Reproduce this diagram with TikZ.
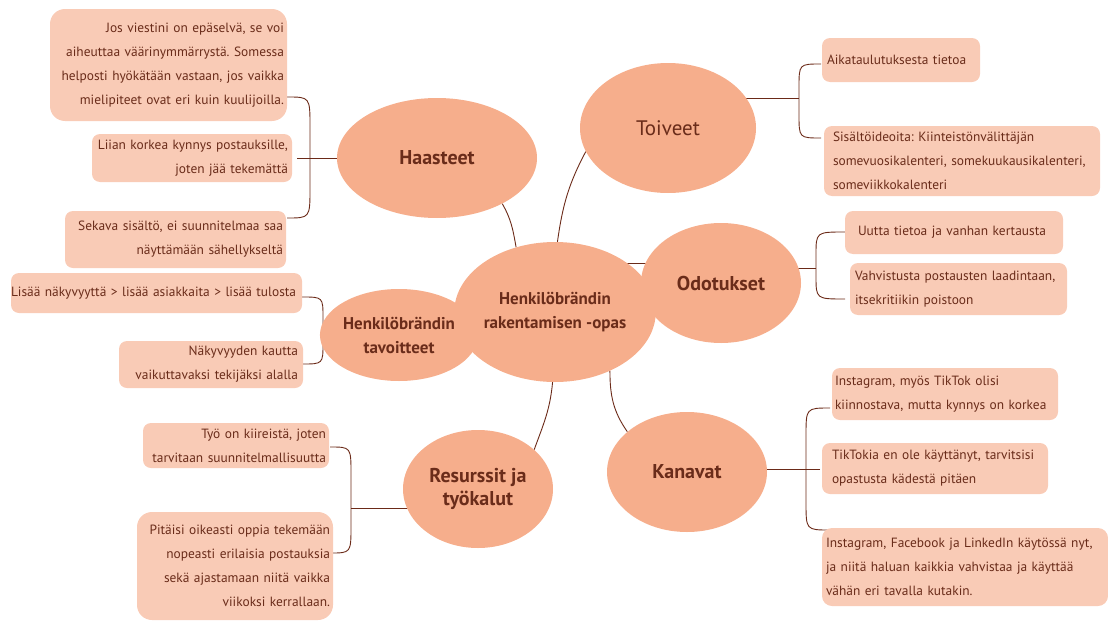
\documentclass[tikz,border=0pt]{standalone}
\usepackage{fontspec}
\setmainfont{PT Sans}
\usetikzlibrary{shapes.geometric,backgrounds}
\definecolor{ellfill}{HTML}{F6AE8C}
\definecolor{boxfill}{HTML}{F9CBB6}
\definecolor{txt}{HTML}{6A2C1A}
\definecolor{ln}{HTML}{6B2A18}
\frenchspacing
\newcommand\Rl[1]{\makebox[\linewidth][r]{#1}}
\newcommand\Ll[1]{\makebox[\linewidth][l]{#1}}
\begin{document}
\begin{tikzpicture}[x=1pt,y=-1pt,
  topic/.style={ellipse, fill=ellfill, inner sep=0pt, text=txt, align=center},
  bigtitle/.style={font=\bfseries\fontsize{20}{23}\selectfont},
  midtitle/.style={font=\bfseries\fontsize{17}{24}\selectfont},
  sub/.style={rectangle, rounded corners=8pt, fill=boxfill, text=txt, inner ysep=0pt, align=left, font=\fontsize{13.4}{24}\selectfont},
  link/.style={draw=ln, line width=0.9pt},
]
\useasboundingbox (0,0) rectangle (1108,621);

% topics
\node[topic, midtitle, minimum width=166pt, minimum height=140pt] (C) at (555,312) {Henkilöbrändin\\rakentamisen -opas};
\node[topic, bigtitle, minimum width=200pt, minimum height=120pt] (haasteet) at (437,158) {Haasteet};
\node[topic, font=\fontsize{21}{24}\selectfont, minimum width=176pt, minimum height=130pt] (toiveet) at (668,128) {Toiveet};
\node[topic, bigtitle, minimum width=160pt, minimum height=120pt] (odotukset) at (721,283) {Odotukset};
\node[topic, midtitle, minimum width=132pt, minimum height=92pt] (tavoitteet) at (399,335) {Henkilöbrändin\\tavoitteet};
\node[topic, bigtitle, minimum width=150pt, minimum height=118pt] (resurssit) at (478,489) {Resurssit ja\\työkalut};
\node[topic, bigtitle, minimum width=160pt, minimum height=120pt] (kanavat) at (687,472) {Kanavat};

% Haasteet boxes
\node[sub, rounded corners=15pt, inner xsep=3pt, text width=231pt, minimum width=237pt, minimum height=112pt] (hb1) at (168.5,65)
  {\Rl{Jos viestini on epäselvä, se voi}\\\Rl{aiheuttaa väärinymmärrystä. Somessa}\\\Rl{helposti hyökätään vastaan, jos vaikka}\\\Rl{mielipiteet ovat eri kuin kuulijoilla.}};
\node[sub, inner xsep=4pt, text width=192pt, minimum width=200pt, minimum height=48pt] (hb2) at (192,158)
  {\Rl{Liian korkea kynnys postauksille,}\\\Rl{joten jää tekemättä}};
\node[sub, inner xsep=3pt, text width=215pt, minimum width=221pt, minimum height=57pt] (hb3) at (175.5,239.5)
  {\Rl{Sekava sisältö, ei suunnitelmaa saa}\\\Rl{näyttämään sähellykseltä}};

% Toiveet boxes
\node[sub, inner xsep=5pt, text width=148pt, minimum width=158pt, minimum height=44pt] (tb1) at (901,60)
  {\Ll{Aikataulutuksesta tietoa}};
\node[sub, inner xsep=9pt, text width=258pt, minimum width=276pt, minimum height=70pt] (tb2) at (962,161)
  {\Ll{Sisältöideoita: Kiinteistönvälittäjän}\\\Ll{somevuosikalenteri, somekuukausikalenteri,}\\\Ll{someviikkokalenteri}};

% Odotukset boxes
\node[sub, inner xsep=13pt, text width=192pt, minimum width=218pt, minimum height=43pt] (ob1) at (954,232.5)
  {\Ll{Uutta tietoa ja vanhan kertausta}};
\node[sub, inner xsep=5pt, text width=207pt, minimum width=217pt, minimum height=52pt] (ob2) at (958.5,289)
  {\Ll{Vahvistusta postausten laadintaan,}\\\Ll{itsekritiikin poistoon}};

% Tavoitteet boxes
\node[sub, inner xsep=0pt, text width=291pt, minimum width=291pt, minimum height=40pt] (vb1) at (156.5,293)
  {\Ll{Lisää näkyvyyttä > lisää asiakkaita > lisää tulosta}};
\node[sub, inner xsep=5pt, text width=174pt, minimum width=184pt, minimum height=47pt] (vb2) at (211,364.5)
  {\Rl{Näkyvyyden kautta}\\\Rl{vaikuttavaksi tekijäksi alalla}};

% Resurssit boxes
\node[sub, inner xsep=3pt, text width=180pt, minimum width=186pt, minimum height=45pt] (rb1) at (236,445.5)
  {\Rl{Työ on kiireistä, joten}\\\Rl{tarvitaan suunnitelmallisuutta}};
\node[sub, rounded corners=15pt, inner xsep=3pt, text width=190pt, minimum width=196pt, minimum height=108pt] (rb2) at (235,566)
  {\Rl{Pitäisi oikeasti oppia tekemään}\\\Rl{nopeasti erilaisia postauksia}\\\Rl{sekä ajastamaan niitä vaikka}\\\Rl{viikoksi kerrallaan.}};

% Kanavat boxes
\node[sub, inner xsep=3pt, text width=220pt, minimum width=226pt, minimum height=52pt] (kb1) at (945,394)
  {\Ll{Instagram, myös TikTok olisi}\\\Ll{kiinnostava, mutta kynnys on korkea}};
\node[sub, inner xsep=10pt, text width=206pt, minimum width=226pt, minimum height=51pt] (kb2) at (935,468.5)
  {\Ll{TikTokia en ole käyttänyt, tarvitsisi}\\\Ll{opastusta kädestä pitäen}};
\node[sub, rounded corners=10pt, inner xsep=4pt, text width=278pt, minimum width=286pt, minimum height=78pt] (kb3) at (965,567)
  {\Ll{Instagram, Facebook ja LinkedIn käytössä nyt,}\\\Ll{ja niitä haluan kaikkia vahvistaa ja käyttää}\\\Ll{vähän eri tavalla kutakin.}};

% junction / bracket coordinates
\coordinate (hJ) at (297,158);
\coordinate (hT) at (hb1.east |- 0,97);
\coordinate (hB) at (287,218);
\coordinate (tJ) at (799,98);
\coordinate (tT) at (821,64);
\coordinate (tB) at (821,138);
\coordinate (oJ) at (816,268);
\coordinate (oT) at (845,232);
\coordinate (oB) at (845,299);
\coordinate (vJ) at (323,329);
\coordinate (vT) at (302,297);
\coordinate (vB) at (302,364);
\coordinate (rJ) at (351,508);
\coordinate (rT) at (330,447);
\coordinate (rB) at (330,553);
\coordinate (kJ) at (820,469);
\coordinate (kT) at (830,408);
\coordinate (kB) at (830,530);

\begin{scope}[on background layer]
  % central connectors
  \draw[link] (haasteet.-35) to[out=-60,in=100] (C.121);
  \draw[link] (C.88) to[out=82,in=-118] (toiveet.196);
  \draw[link] (C.34) -- (C.34 -| odotukset.center);
  \draw[link] (C.192) -- (C.192 -| tavoitteet.center);
  \draw[link] (C.-92) to[out=-95,in=70] (resurssit.35);
  \draw[link] (C.-47) to[out=-90,in=125] (kanavat.146);
  % Haasteet bracket
  \draw[link] (haasteet.west) -- (hJ);
  \draw[link] (hT) .. controls (310,97) .. (310,127) -- (310,188) .. controls (310,218) .. (hB);
  % Toiveet bracket
  \draw[link] (tJ) -- (tJ -| toiveet.center);
  \draw[link] (tT) .. controls (799,64) .. (799,88) -- (799,114) .. controls (799,138) .. (tB);
  % Odotukset bracket
  \draw[link] (oJ) -- (oJ -| odotukset.center);
  \draw[link] (oT) .. controls (816,232) .. (816,255) -- (816,276) .. controls (816,299) .. (oB);
  % Tavoitteet bracket
  \draw[link] (vJ) -- (vJ -| tavoitteet.center);
  \draw[link] (vT) .. controls (323,297) .. (323,318) -- (323,343) .. controls (323,364) .. (vB);
  % Resurssit bracket
  \draw[link] (rJ) -- (rJ -| resurssit.center);
  \draw[link] (rT) .. controls (351,447) .. (351,474) -- (351,526) .. controls (351,553) .. (rB);
  % Kanavat bracket
  \draw[link] (kJ) -- (kJ -| kanavat.center);
  \draw[link] (kT) .. controls (806,408) .. (806,436) -- (806,502) .. controls (806,530) .. (kB);
\end{scope}
\end{tikzpicture}
\end{document}
